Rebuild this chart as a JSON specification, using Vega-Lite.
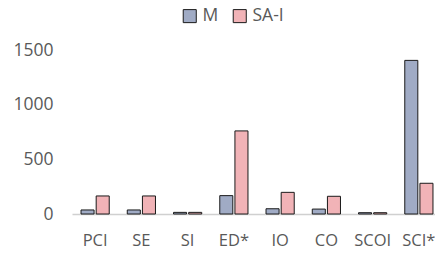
{
  "$schema": "https://vega.github.io/schema/vega-lite/v6.json",
  "autosize": {"type": "none"},
  "padding": {"left": 72, "top": 50, "right": 0, "bottom": 39},
  "width": 370,
  "height": 164,
  "background": "white",
  "config": {"view": {"stroke": null}, "font": "Open Sans"},
  "data": {"values": [
    {"cat": "PCI", "series": "M", "value": 37},
    {"cat": "PCI", "series": "SA-I", "value": 165},
    {"cat": "SE", "series": "M", "value": 37},
    {"cat": "SE", "series": "SA-I", "value": 165},
    {"cat": "SI", "series": "M", "value": 15},
    {"cat": "SI", "series": "SA-I", "value": 15},
    {"cat": "ED*", "series": "M", "value": 168},
    {"cat": "ED*", "series": "SA-I", "value": 760},
    {"cat": "IO", "series": "M", "value": 48},
    {"cat": "IO", "series": "SA-I", "value": 198},
    {"cat": "CO", "series": "M", "value": 45},
    {"cat": "CO", "series": "SA-I", "value": 162},
    {"cat": "SCOI", "series": "M", "value": 12},
    {"cat": "SCOI", "series": "SA-I", "value": 12},
    {"cat": "SCI*", "series": "M", "value": 1405},
    {"cat": "SCI*", "series": "SA-I", "value": 281}
  ]},
  "mark": {"type": "bar", "stroke": "#1a1a1a", "strokeWidth": 1},
  "encoding": {
    "x": {
      "field": "cat", "type": "nominal", "sort": null,
      "scale": {"paddingInner": 0.39, "paddingOuter": 0.195},
      "axis": {"title": null, "labelAngle": 0, "ticks": false, "domainColor": "#d0d0d0", "domainWidth": 1.5,
               "labelColor": "#595959", "labelFontSize": 16.5, "labelPadding": 18}
    },
    "xOffset": {"field": "series", "type": "nominal", "scale": {"paddingInner": 0.14}},
    "y": {
      "field": "value", "type": "quantitative",
      "scale": {"domain": [0, 1500]},
      "axis": {"title": null, "values": [0, 500, 1000, 1500], "format": "d", "grid": false, "ticks": false, "domain": false,
               "labelColor": "#595959", "labelFontSize": 17.5, "labelPadding": 19}
    },
    "color": {
      "field": "series", "type": "nominal",
      "scale": {"domain": ["M", "SA-I"], "range": ["#a0abc5", "#f1b3b7"]},
      "legend": {"title": null, "orient": "none", "legendX": 109, "legendY": -43, "direction": "horizontal",
                 "symbolType": "square", "symbolSize": 170, "symbolStrokeColor": "#1a1a1a", "symbolStrokeWidth": 1,
                 "labelFontSize": 17.5, "labelColor": "#595959", "columnPadding": 12, "labelOffset": 4}
    }
  }
}
